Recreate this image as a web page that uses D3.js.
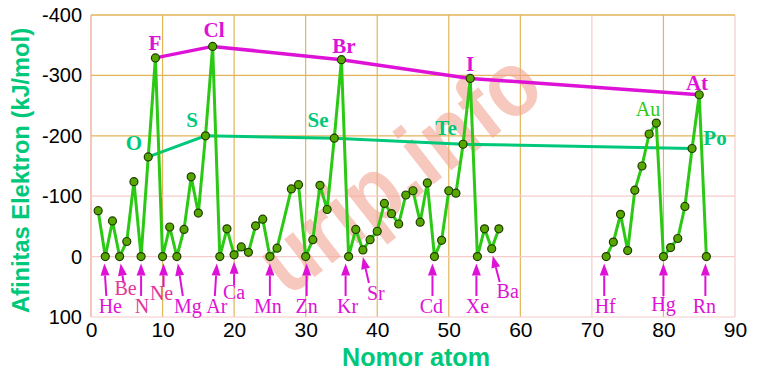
<!DOCTYPE html>
<html>
<head>
<meta charset="utf-8">
<script src="https://cdn.jsdelivr.net/npm/d3@7"></script>
<style>
  html, body { margin: 0; padding: 0; background: #fff; }
  svg { display: block; }
  .tick text { font-family: "Liberation Sans", Arial, sans-serif; fill: #000; }
  .lbl { font-family: "Liberation Serif", "Times New Roman", serif; }
</style>
</head>
<body>
<div id="chart"></div>
<script>
// Afinitas elektron vs nomor atom (0 = tidak stabil / positif)
const atomNumbers = [1, 2, 3, 4, 5, 6, 7, 8, 9, 10, 11, 12, 13, 14, 15, 16, 17, 18, 19, 20,
  21, 22, 23, 24, 25, 26, 28, 29, 30, 31, 32, 33, 34, 35, 36, 37, 38, 39, 40,
  41, 42, 43, 44, 45, 46, 47, 48, 49, 50, 51, 52, 53, 54, 55, 56, 57,
  72, 73, 74, 75, 76, 77, 78, 79, 80, 81, 82, 83, 84, 85, 86];
const affinities = [-76, 0, -59, 0, -25, -124, 0, -165, -329, 0, -49, 0, -45, -132, -72, -200, -348, 0, -46, -3,
  -16, -7, -51, -62, 0, -14, -112, -119, 0, -28, -118, -78, -196, -326, 0, -45, -11, -28, -42,
  -88, -71, -54, -102, -109, -57, -122, 0, -27, -109, -105, -186, -295, 0, -46, -13, -46,
  0, -24, -70, -10, -110, -150, -203, -221, 0, -15, -30, -83, -179, -268, 0];

// golongan 17 (halogen) dan golongan 16
const halogens = ["F", "Cl", "Br", "I", "At"];
const halogenZ = [9, 17, 35, 53, 85];
const chalcogens = ["O", "S", "Se", "Te", "Po"];
const chalcogenZ = [8, 16, 34, 52, 84];

// unsur yang ditunjuk panah dari bawah
const arrowElements = ["He", "Be", "N", "Ne", "Mg", "Ar", "Ca", "Mn", "Zn", "Kr", "Sr", "Cd", "Xe", "Ba", "Hf", "Hg", "Rn"];
const arrowZ = [2, 4, 7, 10, 12, 18, 20, 25, 30, 36, 38, 48, 54, 56, 72, 80, 86];

const xTicks = [0, 10, 20, 30, 40, 50, 60, 70, 80, 90];
const yTicks = [-400, -300, -200, -100, 0, 100];

// posisi panah & label (offset piksel terhadap titik)
const arrowLayout = {
  He: { tip: -1, tail: 1, lx: 5, ly: 313 },
  Be: { tip: 1, tail: 4, lx: 6, ly: 295, tailY: 283 },
  N:  { tip: 0, tail: 0, lx: 1, ly: 313 },
  Ne: { tip: 1, tail: 1, lx: -1, ly: 300, tailY: 287 },
  Mg: { tip: 1, tail: 6, lx: 11, ly: 313 },
  Ar: { tip: -3, tail: -5, lx: -3, ly: 313 },
  Ca: { tip: 0, tail: 0, lx: 0, ly: 299, tailY: 285 },
  Mn: { tip: 0, tail: 0, lx: -2, ly: 313 },
  Zn: { tip: 1, tail: 1, lx: 1, ly: 313 },
  Kr: { tip: -3, tail: -3, lx: -1, ly: 313 },
  Sr: { tip: 0, tail: 6, lx: 13, ly: 300, tailY: 283 },
  Cd: { tip: -2, tail: -2, lx: -3, ly: 313 },
  Xe: { tip: -1, tail: -1, lx: 0, ly: 313 },
  Ba: { tip: 1, tail: 8, lx: 16, ly: 298, tailY: 282 },
  Hf: { tip: -2, tail: -2, lx: -1, ly: 313 },
  Hg: { tip: 0, tail: 0, lx: 0, ly: 311 },
  Rn: { tip: -1, tail: -1, lx: -2, ly: 313 }
};

const W = 760, H = 381;
const GREEN = "#2bc814", MAGENTA = "#dd12d6", TEAL = "#00c87a", GOLD = "#e2b55a", PINK = "#f6cccc";

const svg = d3.select("#chart").append("svg").attr("width", W).attr("height", H);

const x = d3.scaleLinear().domain([0, 90]).range([91, 735]);
const y = d3.scaleLinear().domain([-400, 100]).range([15, 317]);

const valueOf = z => affinities[atomNumbers.indexOf(z)];

// grid
const grid = svg.append("g");
xTicks.forEach(t => {
  const faint = t === 0 || t === 70 || t === 90;
  grid.append("line")
    .attr("x1", x(t)).attr("x2", x(t)).attr("y1", y(-400)).attr("y2", y(100))
    .attr("stroke", t === 0 ? "#f0b4a8" : faint ? PINK : GOLD)
    .attr("stroke-width", t === 0 ? 1.5 : 1.2);
});
yTicks.forEach(t => {
  const faint = t === -100 || t === 0 || t === 100;
  grid.append("line")
    .attr("x1", x(0)).attr("x2", x(90)).attr("y1", y(t)).attr("y2", y(t))
    .attr("stroke", faint ? PINK : GOLD)
    .attr("stroke-width", t === -400 ? 1.6 : 1.2);
});

// watermark
svg.append("text")
  .attr("transform", "translate(402,176) rotate(-38)")
  .attr("text-anchor", "middle")
  .attr("dy", "0.28em")
  .attr("font-family", "'Liberation Sans', Arial, sans-serif")
  .attr("font-weight", "bold")
  .attr("font-size", 92)
  .attr("textLength", 330)
  .attr("lengthAdjust", "spacingAndGlyphs")
  .attr("fill", "#f3a693")
  .attr("opacity", 0.6)
  .text("urip.info");

// axes (labels only)
const yAxis = svg.append("g")
  .attr("transform", `translate(${x(0)},0)`)
  .call(d3.axisLeft(y).tickValues(yTicks).tickSize(0).tickPadding(9).tickFormat(d => String(d)));
yAxis.select(".domain").remove();
yAxis.selectAll("text").attr("font-size", 20);

const xAxis = svg.append("g")
  .attr("transform", `translate(0,${y(100)})`)
  .call(d3.axisBottom(x).tickValues(xTicks).tickSize(0).tickPadding(5).tickFormat(d => String(d)));
xAxis.select(".domain").remove();
xAxis.selectAll("text").attr("font-size", 21);

// axis titles
svg.append("text")
  .attr("transform", `translate(29,${(28 + 313) / 2}) rotate(-90)`)
  .attr("text-anchor", "middle")
  .attr("font-family", "'Liberation Sans', Arial, sans-serif")
  .attr("font-weight", "bold")
  .attr("font-size", 23)
  .attr("textLength", 285)
  .attr("lengthAdjust", "spacingAndGlyphs")
  .attr("fill", TEAL)
  .text("Afinitas Elektron (kJ/mol)");

svg.append("text")
  .attr("x", 416).attr("y", 366)
  .attr("text-anchor", "middle")
  .attr("font-family", "'Liberation Sans', Arial, sans-serif")
  .attr("font-weight", "bold")
  .attr("font-size", 25)
  .attr("textLength", 148)
  .attr("lengthAdjust", "spacingAndGlyphs")
  .attr("fill", TEAL)
  .text("Nomor atom");

// group lines
const line = d3.line().x(d => x(d[0])).y(d => y(d[1]));
svg.append("path")
  .datum(chalcogenZ.map(z => [z, valueOf(z)]))
  .attr("d", line).attr("fill", "none").attr("stroke", TEAL).attr("stroke-width", 3);
svg.append("path")
  .datum(halogenZ.map(z => [z, valueOf(z)]))
  .attr("d", line).attr("fill", "none").attr("stroke", MAGENTA).attr("stroke-width", 3.5);

// main series, broken at the lanthanide gap
const pts = atomNumbers.map((z, i) => [z, affinities[i]]);
const segments = [];
pts.forEach((p, i) => {
  if (i === 0 || p[0] - pts[i - 1][0] > 2) segments.push([]);
  segments[segments.length - 1].push(p);
});
svg.selectAll(".seg").data(segments).enter().append("path")
  .attr("class", "seg")
  .attr("d", line).attr("fill", "none").attr("stroke", GREEN)
  .attr("stroke-width", 3).attr("stroke-linejoin", "round");

svg.selectAll(".pt").data(pts).enter().append("circle")
  .attr("class", "pt")
  .attr("cx", d => x(d[0])).attr("cy", d => y(d[1])).attr("r", 4)
  .attr("fill", "#56a800").attr("stroke", "#203c00").attr("stroke-width", 1.2);

// group labels
const labelPos = {
  F: [155, 50], Cl: [214, 37], Br: [344, 53], I: [470, 71], At: [697, 90],
  O: [134, 150], S: [192, 127], Se: [318, 127], Te: [446, 135], Po: [715, 145]
};
halogens.forEach(el => {
  svg.append("text").attr("class", "lbl")
    .attr("x", labelPos[el][0]).attr("y", labelPos[el][1])
    .attr("text-anchor", "middle").attr("font-weight", "bold").attr("font-size", 21)
    .attr("fill", MAGENTA).text(el);
});
chalcogens.forEach(el => {
  svg.append("text").attr("class", "lbl")
    .attr("x", labelPos[el][0]).attr("y", labelPos[el][1])
    .attr("text-anchor", "middle").attr("font-weight", "bold").attr("font-size", 21)
    .attr("fill", TEAL).text(el);
});
svg.append("text").attr("class", "lbl")
  .attr("x", 648).attr("y", 116).attr("text-anchor", "middle")
  .attr("font-size", 20).attr("fill", GREEN).text("Au");

// arrows
arrowElements.forEach((el, i) => {
  const z = arrowZ[i];
  const L = arrowLayout[el];
  const cx = x(z);
  const tipY = y(valueOf(z)) + 7;
  const tx = cx + L.tip, bx = cx + L.tail, by = L.tailY || 296;
  const ang = Math.atan2(tipY - by, tx - bx);
  const hl = 12, hw = 4.5;
  const baseX = tx - hl * Math.cos(ang), baseY = tipY - hl * Math.sin(ang);
  const nx = -Math.sin(ang), ny = Math.cos(ang);
  svg.append("line")
    .attr("x1", bx).attr("y1", by).attr("x2", baseX).attr("y2", baseY)
    .attr("stroke", MAGENTA).attr("stroke-width", 2);
  svg.append("path")
    .attr("d", `M${tx},${tipY}L${baseX + nx * hw},${baseY + ny * hw}L${baseX - nx * hw},${baseY - ny * hw}Z`)
    .attr("fill", MAGENTA);
  svg.append("text").attr("class", "lbl")
    .attr("x", cx + L.lx).attr("y", L.ly)
    .attr("text-anchor", "middle").attr("font-size", 20)
    .attr("fill", el === "Be" || el === "N" || el === "Ne" ? "#e2369c" : MAGENTA)
    .text(el);
});
</script>
</body>
</html>
